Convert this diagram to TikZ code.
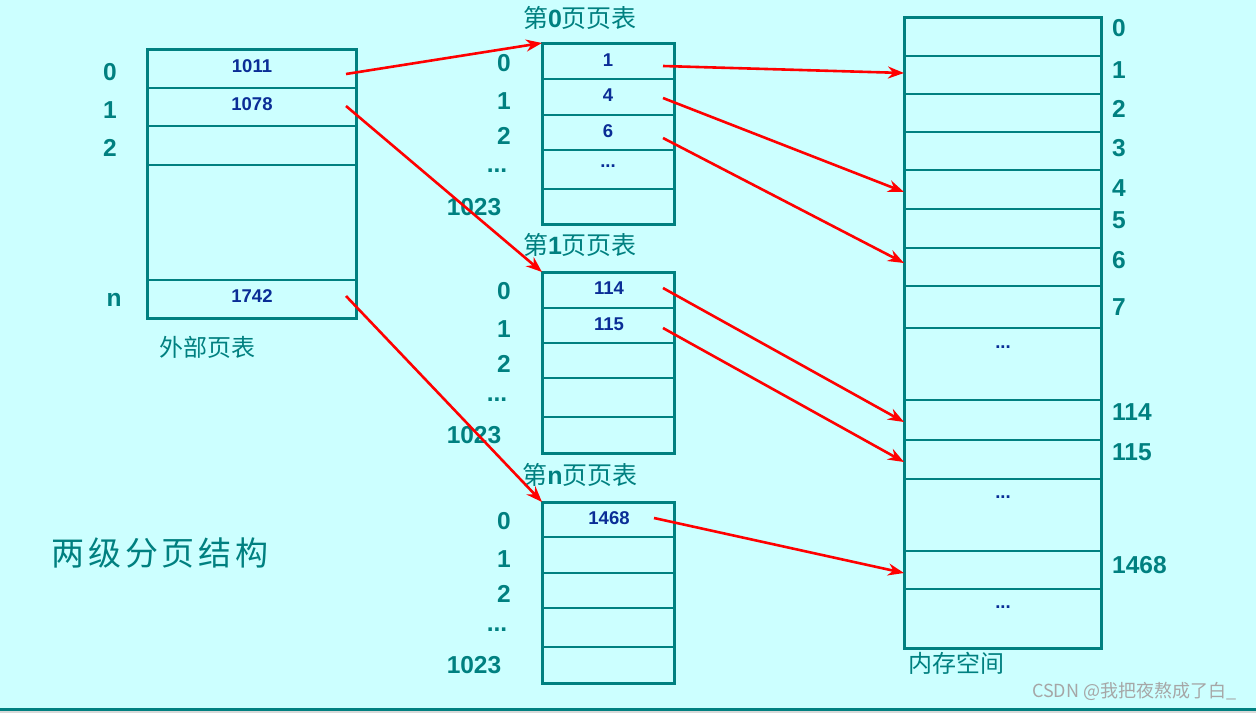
\documentclass[tikz,border=0pt]{standalone}
\usepackage{fontspec}
\setmainfont{Liberation Sans}
\newfontfamily\cjk{Noto Sans CJK SC}
\usetikzlibrary{arrows.meta,positioning}
\definecolor{bgcyan}{HTML}{CCFFFF}
\definecolor{tealc}{HTML}{008080}
\definecolor{valblue}{HTML}{0A2D96}

\begin{document}
\begin{tikzpicture}[x=1pt,y=-1pt,
    tbl/.style 2 args={draw=tealc, line width=3pt, minimum width=#1, minimum height=#2,
      inner sep=0pt, outer sep=0pt, anchor=north west},
    cell/.style={tealc, line width=1.3pt},
    idx/.style={text=tealc, font=\fontsize{24.5}{24.5}\selectfont\bfseries, inner sep=0pt},
    val/.style={text=valblue, font=\fontsize{18.5}{18.5}\selectfont\bfseries, inner sep=0pt},
    title/.style={text=tealc, font=\fontsize{25}{25}\selectfont\cjk, inner sep=0pt},
    ptr/.style={red, line width=2.6pt, -{Stealth[length=16pt,width=12pt]}}]
  % Background and frame
  \fill[bgcyan] (0,0) rectangle (1256,713);
  \useasboundingbox (0,0) rectangle (1256,713);
  \fill[black!15] (0,711) rectangle (1256,713);
  \fill[tealc] (0,708) rectangle (1256,711);

  % Outer page table
  \node[tbl={209pt}{269pt}] (outer) at (147,49) {};
  \foreach \y in {88,126,165,280}
    \draw[cell] (outer.west |- 0,\y) -- (outer.east |- 0,\y);
  \node[val] at (252,66) {1011};
  \node[val] at (252,104) {1078};
  \node[val] at (252,296) {1742};
  \node[idx] at (110,72) {0};
  \node[idx] at (110,110) {1};
  \node[idx] at (110,148) {2};
  \node[idx] at (114,300) {n};
  \node[title, font=\fontsize{24}{24}\selectfont\cjk] at (207,347) {外部页表};

  % Page table 0
  \node[tbl={132pt}{181pt}] (pt0) at (542,43) {};
  \foreach \y in {79,115,150,189}
    \draw[cell] (pt0.west |- 0,\y) -- (pt0.east |- 0,\y);
  \node[val] at (608,60) {1};
  \node[val] at (608,95) {4};
  \node[val] at (608,131) {6};
  \node[val] at (608,166) {...};
  \node[idx] at (504,63) {0};
  \node[idx] at (504,101) {1};
  \node[idx] at (504,136) {2};
  \node[idx] at (497,171) {...};
  \node[idx] at (474,207) {1023};
  \node[title] at (580,18) {第{\rmfamily\bfseries 0}页页表};

  % Page table 1
  \node[tbl={132pt}{181pt}] (pt1) at (542,272) {};
  \foreach \y in {308,343,378,417}
    \draw[cell] (pt1.west |- 0,\y) -- (pt1.east |- 0,\y);
  \node[val] at (609,288) {114};
  \node[val] at (609,324) {115};
  \node[idx] at (504,291) {0};
  \node[idx] at (504,329) {1};
  \node[idx] at (504,364) {2};
  \node[idx] at (497,400) {...};
  \node[idx] at (474,435) {1023};
  \node[title] at (580,245) {第{\rmfamily\bfseries 1}页页表};

  % Page table n
  \node[tbl={132pt}{181pt}] (ptn) at (542,502) {};
  \foreach \y in {537,573,608,647}
    \draw[cell] (ptn.west |- 0,\y) -- (ptn.east |- 0,\y);
  \node[val] at (609,518) {1468};
  \node[idx] at (504,521) {0};
  \node[idx] at (504,559) {1};
  \node[idx] at (504,594) {2};
  \node[idx] at (497,630) {...};
  \node[idx] at (474,665) {1023};
  \node[title] at (580,475) {第{\rmfamily\bfseries n}页页表};

  % Memory
  \node[tbl={197pt}{631pt}] (mem) at (904,17) {};
  \foreach \y in {56,94,132,170,209,248,286,328,400,440,479,551,589}
    \draw[cell] (mem.west |- 0,\y) -- (mem.east |- 0,\y);
  \node[val] at (1003,347) {...};
  \node[val] at (1003,497) {...};
  \node[val] at (1003,607) {...};
  \foreach \n/\y in {0/28,1/70,2/109,3/148,4/188,5/220,6/260,7/307,114/412,115/452,1468/565}
    \node[idx, anchor=west] at (1112,\y) {\n};
  \node[title, font=\fontsize{24}{24}\selectfont\cjk, anchor=west] at (908,663) {内存空间};

  \node[title, font=\fontsize{33}{33}\selectfont\cjk, text width=217pt, align=justify] (caption) at (160,553) {两\hfill 级\hfill 分\hfill 页\hfill 结\hfill 构};
  \node[text=black!35, font=\fontsize{18}{18}\selectfont\cjk, anchor=east] (mark) at (1240,691) {CSDN @我把夜熬成了白\_};

  % Pointers
  \coordinate (o0) at (346,74);
  \coordinate (o1) at (346,106);
  \coordinate (on) at (346,296);
  \draw[ptr] (o0) -- (pt0.north west);
  \draw[ptr] (o1) -- (pt1.north west);
  \draw[ptr] (on) -- (ptn.north west);

  \coordinate (a1) at (663,66);
  \coordinate (a4) at (663,98);
  \coordinate (a6) at (663,138);
  \coordinate (b114) at (663,288);
  \coordinate (b115) at (663,328);
  \coordinate (c1468) at (654,518);
  \coordinate (m1) at (mem.west |- 0,73);
  \coordinate (m4) at (mem.west |- 0,192);
  \coordinate (m6) at (mem.west |- 0,263);
  \coordinate (m114) at (mem.west |- 0,422);
  \coordinate (m115) at (mem.west |- 0,462);
  \coordinate (m1468) at (mem.west |- 0,573);
  \draw[ptr] (a1) -- (m1);
  \draw[ptr] (a4) -- (m4);
  \draw[ptr] (a6) -- (m6);
  \draw[ptr] (b114) -- (m114);
  \draw[ptr] (b115) -- (m115);
  \draw[ptr] (c1468) -- (m1468);
\end{tikzpicture}
\end{document}
